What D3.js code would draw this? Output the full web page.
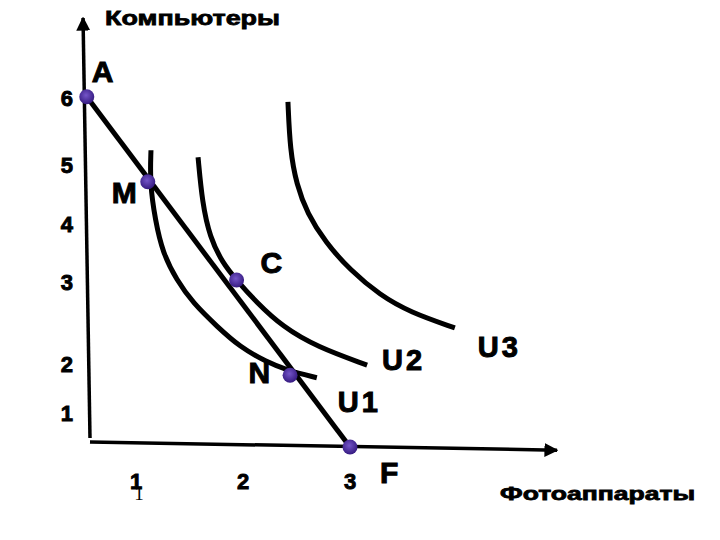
<!DOCTYPE html>
<html>
<head>
<meta charset="utf-8">
<script src="https://cdn.jsdelivr.net/npm/d3@7"></script>
<style>
body { margin: 0; background: #fff; }
</style>
</head>
<body>
<div id="chart"></div>
<script>
// axis titles
var yTitle = 'Компьютеры';
var xTitle = 'Фотоаппараты';

// tick labels and where they sit on the axes (data units)
var xTickLabels = ['1', '2', '3'];
var xTickValues = [1, 2, 3];
var yTickLabels = ['6', '5', '4', '3', '2', '1'];
var yTickValues = [6, 4.94, 4.0, 3.08, 1.78, 1.0];

// points on the budget line A -> F
var pointNames = ['A', 'M', 'C', 'N', 'F'];
var pointX = [0.54, 1.11, 1.94, 2.44, 3.0];
var pointY = [6.02, 4.67, 3.11, 1.60, 0.46];

// indifference curves
var u1X = [1.14, 1.13, 1.18, 1.25, 1.38, 1.53, 1.76, 1.97, 2.22, 2.41, 2.69];
var u1Y = [5.17, 4.65, 4.06, 3.54, 3.11, 2.75, 2.37, 2.05, 1.81, 1.68, 1.56];
var u2X = [1.58, 1.62, 1.69, 1.81, 1.94, 2.13, 2.37, 2.69, 3.16];
var u2Y = [5.06, 4.33, 3.79, 3.38, 3.11, 2.75, 2.37, 2.05, 1.76];
var u3X = [2.42, 2.44, 2.50, 2.60, 2.77, 3.00, 3.28, 3.56, 3.98];
var u3Y = [5.94, 5.17, 4.63, 4.17, 3.71, 3.27, 2.87, 2.60, 2.35];
var curveNames = ['U1', 'U2', 'U3'];

// axis ends (data units)
var axisOrigin = [0.57, 0.54];
var yAxisTop = [0.505, 7.27];
var xAxisEnd = [4.935, 0.41];

var width = 720;
var height = 540;

var svg = d3.select('#chart').append('svg')
	.attr('width', width)
	.attr('height', height);

var x = d3.scaleLinear().domain([0, 3]).range([29, 350]);
var y = d3.scaleLinear().domain([0, 6]).range([476, 98]);

var bold = 'Liberation Sans, Arial, sans-serif';

// heavy text like the Arial Black of the original
function heavy(sel, size, stroke) {
	return sel.attr('font-family', bold)
		.attr('font-weight', 'bold')
		.attr('font-size', size)
		.attr('stroke', '#000')
		.attr('stroke-width', stroke)
		.attr('paint-order', 'stroke');
}

// arrow heads
var defs = svg.append('defs');
defs.append('marker')
	.attr('id', 'arrow')
	.attr('viewBox', '0 0 10 10')
	.attr('refX', 9).attr('refY', 5)
	.attr('markerWidth', 4).attr('markerHeight', 4)
	.attr('markerUnits', 'strokeWidth')
	.attr('orient', 'auto')
	.append('path')
	.attr('d', 'M0,0 L10,5 L0,10 z')
	.attr('fill', '#000');

var dotGrad = defs.append('radialGradient').attr('id', 'dot')
	.attr('cx', '45%').attr('cy', '40%').attr('r', '60%');
dotGrad.append('stop').attr('offset', '0%').attr('stop-color', '#7455c8');
dotGrad.append('stop').attr('offset', '100%').attr('stop-color', '#351a80');

// axes
svg.append('line')
	.attr('x1', x(axisOrigin[0])).attr('y1', y(axisOrigin[1]) - 4)
	.attr('x2', x(yAxisTop[0])).attr('y2', y(yAxisTop[1]))
	.attr('stroke', '#000').attr('stroke-width', 3.5)
	.attr('marker-end', 'url(#arrow)');
svg.append('line')
	.attr('x1', x(axisOrigin[0])).attr('y1', y(axisOrigin[1]))
	.attr('x2', x(xAxisEnd[0])).attr('y2', y(xAxisEnd[1]))
	.attr('stroke', '#000').attr('stroke-width', 3.5)
	.attr('marker-end', 'url(#arrow)');

// tick labels
xTickValues.forEach(function(v, i) {
	heavy(svg.append('text'), 22, 0.9)
		.attr('x', x(v))
		.attr('y', y(axisOrigin[1]) + 47)
		.attr('text-anchor', 'middle')
		.text(xTickLabels[i]);
});
// stray thin "1" under the first x label
svg.append('text')
	.attr('x', x(xTickValues[0]) + 3)
	.attr('y', y(axisOrigin[1]) + 58)
	.attr('text-anchor', 'middle')
	.attr('font-family', 'Liberation Serif, Times New Roman, serif').attr('font-size', 19)
	.text(xTickLabels[0]);

yTickValues.forEach(function(v, i) {
	heavy(svg.append('text'), 22, 0.9)
		.attr('x', x(axisOrigin[0]) - 23)
		.attr('y', y(v) + 8)
		.attr('text-anchor', 'middle')
		.text(yTickLabels[i]);
});

// axis titles
heavy(svg.append('text'), 21, 0.8)
	.attr('x', x(yAxisTop[0]) + 22)
	.attr('y', y(yAxisTop[1]) + 7)
	.attr('textLength', 175).attr('lengthAdjust', 'spacingAndGlyphs')
	.text(yTitle);
heavy(svg.append('text'), 19, 0.8)
	.attr('x', x(xAxisEnd[0]) - 57)
	.attr('y', y(xAxisEnd[1]) + 50)
	.attr('textLength', 195).attr('lengthAdjust', 'spacingAndGlyphs')
	.text(xTitle);

// indifference curves
var curve = d3.line()
	.x(function(d) { return x(d[0]); })
	.y(function(d) { return y(d[1]); })
	.curve(d3.curveBasis);

var curves = [d3.zip(u1X, u1Y), d3.zip(u2X, u2Y), d3.zip(u3X, u3Y)];
// label offsets from the lower end of each curve
var curveLabelOff = [[21, 34], [15, 5], [23, 29]];

curves.forEach(function(pts, i) {
	svg.append('path')
		.datum(pts)
		.attr('d', curve)
		.attr('fill', 'none')
		.attr('stroke', '#000')
		.attr('stroke-width', 5);
	var last = pts[pts.length - 1];
	heavy(svg.append('text'), 29, 1)
		.attr('x', x(last[0]) + curveLabelOff[i][0])
		.attr('y', y(last[1]) + curveLabelOff[i][1])
		.attr('letter-spacing', 3)
		.text(curveNames[i]);
});

// budget line
var budget = d3.zip(pointX, pointY);
svg.append('path')
	.datum([budget[0], budget[budget.length - 1]])
	.attr('d', d3.line().x(function(d) { return x(d[0]); }).y(function(d) { return y(d[1]); }))
	.attr('stroke', '#000')
	.attr('stroke-width', 5);

// points and their letters
var pointLabelOff = [[5, -15, 'start'], [-11, 21, 'end'], [24, -7, 'start'], [-20, 8, 'end'], [30, 36, 'start']];

budget.forEach(function(p, i) {
	svg.append('circle')
		.attr('cx', x(p[0]))
		.attr('cy', y(p[1]))
		.attr('r', 7.5)
		.attr('fill', 'url(#dot)');
	heavy(svg.append('text'), 30, 1)
		.attr('x', x(p[0]) + pointLabelOff[i][0])
		.attr('y', y(p[1]) + pointLabelOff[i][1])
		.attr('text-anchor', pointLabelOff[i][2])
		.text(pointNames[i]);
});
</script>
</body>
</html>
